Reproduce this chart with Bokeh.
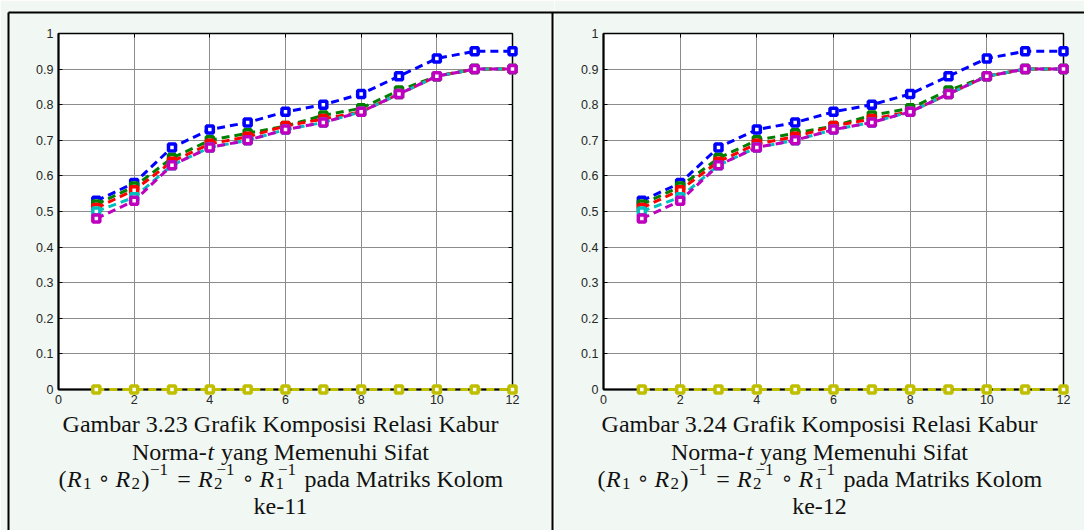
from bokeh.plotting import figure
from bokeh.layouts import row
from bokeh.models import LinearAxis, FixedTicker, Range1d
from bokeh.core.properties import value
from bokeh.embed import file_html
from bokeh.resources import INLINE

# ---- data -------------------------------------------------------------
steps = [1, 2, 3, 4, 5, 6, 7, 8, 9, 10, 11, 12]
x_ticks = [0, 2, 4, 6, 8, 10, 12]
y_ticks = [0, 0.1, 0.2, 0.3, 0.4, 0.5, 0.6, 0.7, 0.8, 0.9, 1]
y_tick_labels = ["0", "0.1", "0.2", "0.3", "0.4", "0.5", "0.6", "0.7", "0.8", "0.9", "1"]

# column 11
k11_blue = [0.53, 0.58, 0.68, 0.73, 0.75, 0.78, 0.80, 0.83, 0.88, 0.93, 0.95, 0.95]
k11_green = [0.52, 0.57, 0.65, 0.70, 0.72, 0.74, 0.77, 0.79, 0.84, 0.88, 0.90, 0.90]
k11_red = [0.51, 0.56, 0.64, 0.69, 0.71, 0.74, 0.76, 0.78, 0.83, 0.88, 0.90, 0.90]
k11_cyan = [0.50, 0.54, 0.63, 0.68, 0.70, 0.73, 0.75, 0.78, 0.83, 0.88, 0.90, 0.90]
k11_magenta = [0.48, 0.53, 0.63, 0.68, 0.70, 0.73, 0.75, 0.78, 0.83, 0.88, 0.90, 0.90]
k11_yellow = [0, 0, 0, 0, 0, 0, 0, 0, 0, 0, 0, 0]

# column 12
k12_blue = [0.53, 0.58, 0.68, 0.73, 0.75, 0.78, 0.80, 0.83, 0.88, 0.93, 0.95, 0.95]
k12_green = [0.52, 0.57, 0.65, 0.70, 0.72, 0.74, 0.77, 0.79, 0.84, 0.88, 0.90, 0.90]
k12_red = [0.51, 0.56, 0.64, 0.69, 0.71, 0.74, 0.76, 0.78, 0.83, 0.88, 0.90, 0.90]
k12_cyan = [0.50, 0.54, 0.63, 0.68, 0.70, 0.73, 0.75, 0.78, 0.83, 0.88, 0.90, 0.90]
k12_magenta = [0.48, 0.53, 0.63, 0.68, 0.70, 0.73, 0.75, 0.78, 0.83, 0.88, 0.90, 0.90]
k12_yellow = [0, 0, 0, 0, 0, 0, 0, 0, 0, 0, 0, 0]

series_colors = ["#0000ff", "#008000", "#ff0000", "#00bfbf", "#bf00bf", "#bfbf00"]

SERIF = "Liberation Serif"
SANS = "Liberation Sans"
INK = "#111111"
PAGE_BG = "#f1f8f3"
PAGE_H = 530
FRAME_TOP = 33
FRAME_BOTTOM = 389


class Panel:
    """One table cell: a chart whose frame sits at fixed page pixels."""

    def __init__(self, width, page_left, frame_left, frame_right):
        self.page_left = page_left
        self.frame_left = frame_left          # page pixels
        self.px_per_x = (frame_right - frame_left) / 12.0
        self.px_per_y = (FRAME_BOTTOM - FRAME_TOP) / 1.0
        self.p = figure(width=width, height=PAGE_H, x_range=Range1d(0, 12), y_range=Range1d(0, 1),
                        toolbar_location=None, output_backend="svg",
                        min_border_left=frame_left - page_left,
                        min_border_right=width - (frame_right - page_left),
                        min_border_top=FRAME_TOP, min_border_bottom=PAGE_H - FRAME_BOTTOM,
                        background_fill_color="white", border_fill_color=PAGE_BG)

    # page pixel -> data coordinate (used only for the table rules)
    def dx(self, px):
        return (px - self.frame_left) / self.px_per_x

    def dy(self, py):
        return (FRAME_BOTTOM - py) / self.px_per_y

    def put(self, text, px, py, size=24, font=SERIF, style="normal", align="left"):
        # anchored at the frame's bottom-left corner, shifted by pixel offsets
        self.p.text(x=[0], y=[0], text=[text],
                    x_offset=px - self.frame_left, y_offset=py - FRAME_BOTTOM,
                    text_font=value(font), text_font_size=value(f"{size}px"),
                    text_font_style=style, text_align=align, text_baseline="alphabetic",
                    text_color=INK, level="overlay")

    def rule(self, x0, y0, x1, y1):
        self.p.segment(x0=[self.dx(x0)], y0=[self.dy(y0)], x1=[self.dx(x1)], y1=[self.dy(y1)],
                       line_color="black", line_width=2, level="overlay")


def style_chart(pn, values):
    p = pn.p
    p.outline_line_color = "black"
    p.outline_line_width = 1.5

    p.xaxis.ticker = FixedTicker(ticks=x_ticks)
    p.yaxis.ticker = FixedTicker(ticks=y_ticks)
    p.xgrid.ticker = FixedTicker(ticks=x_ticks)
    p.ygrid.ticker = FixedTicker(ticks=y_ticks)
    p.yaxis.major_label_overrides = dict(zip(y_ticks, y_tick_labels))
    for ax in (p.xaxis[0], p.yaxis[0]):
        ax.axis_line_color = "black"
        ax.axis_line_width = 2
        ax.major_tick_in = 4
        ax.major_tick_out = 0
        ax.major_tick_line_color = "black"
        ax.minor_tick_line_color = None
        ax.major_label_text_font = SANS
        ax.major_label_text_font_size = "12.5px"
        ax.major_label_text_color = "#262626"
        ax.major_label_standoff = 5

    # inward ticks on the top and right edges of the box
    for loc, ticks in (("above", x_ticks), ("right", y_ticks)):
        ax = LinearAxis(ticker=FixedTicker(ticks=ticks), axis_line_color=None,
                        major_tick_in=4, major_tick_out=0, major_tick_line_color="black",
                        minor_tick_line_color=None, major_label_text_color=None,
                        major_label_overrides={t: "" for t in ticks},
                        major_label_standoff=0)
        p.add_layout(ax, loc)

    for g in (p.xgrid[0], p.ygrid[0]):
        g.grid_line_color = "#8c8c8c"
        g.grid_line_width = 1

    for color, vals in zip(series_colors, values):
        p.line(steps, vals, line_color=color, line_width=3, line_dash="8 5", level="overlay")
        p.scatter(steps, vals, marker="square", size=7, line_color=color, line_width=3.5,
                  fill_color="white", level="overlay")


def caption(pn, cx, number, column):
    put = pn.put
    put(f"Gambar {number} Grafik Komposisi Relasi Kabur", cx, 423, align="center")

    # Norma-t yang Memenuhi Sifat
    x0 = cx - 148.5
    y = 451
    put("Norma-", x0, y)
    put("t", x0 + 75.5, y, style="italic")
    put("yang Memenuhi Sifat", x0 + 89, y)

    # (R1 o R2)^-1 = R2^-1 o R1^-1 pada Matriks Kolom
    s = cx - 222
    y = 478
    sub, sup, small = 5, -9, 17
    put("(", s + 0, y)
    put("R", s + 8.5, y, style="italic")
    put("1", s + 24.5, y + sub, size=small)
    put("\u2218", s + 45.4, y - 1, size=20, font="DejaVu Sans", align="center")
    put("R", s + 57, y, style="italic")
    put("2", s + 73, y + sub, size=small)
    put(")", s + 83, y)
    put("\u22121", s + 91.5, y + sup, size=small)
    put("=", s + 125.5, y, align="center")
    put("R", s + 139.5, y, style="italic")
    put("2", s + 155.5, y + sub, size=small)
    put("\u22121", s + 158, y + sup, size=small)
    put("\u2218", s + 189.5, y - 1, size=20, font="DejaVu Sans", align="center")
    put("R", s + 201, y, style="italic")
    put("1", s + 217, y + sub, size=small)
    put("\u22121", s + 219.5, y + sup, size=small)
    put("pada Matriks Kolom", s + 246, y)

    put(f"ke-{column}", cx, 505, align="center")


left = Panel(554, 0, 58, 512)
style_chart(left, [k11_blue, k11_green, k11_red, k11_cyan, k11_magenta, k11_yellow])
caption(left, 280, "3.23", 11)
left.rule(8, 12, 554, 12)
left.rule(8, 12, 8, 540)
left.rule(552, 12, 552, 540)

right = Panel(530, 554, 603, 1063)
style_chart(right, [k12_blue, k12_green, k12_red, k12_cyan, k12_magenta, k12_yellow])
caption(right, 819, "3.24", 12)
right.rule(550, 12, 1090, 12)

layout = row(left.p, right.p, spacing=0)
open("out.html", "w").write(file_html(layout, INLINE))
